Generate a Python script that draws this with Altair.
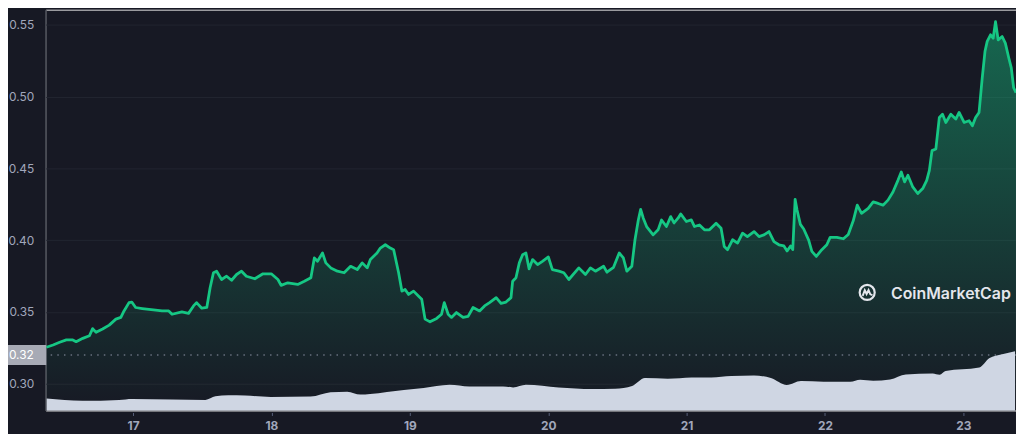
import altair as alt
import pandas as pd

# ---- price series (day of month, USD) ----
days = [16.374, 16.422, 16.470, 16.518, 16.565, 16.589, 16.637, 16.685, 16.708, 16.733,
        16.780, 16.828, 16.876, 16.912, 16.935, 16.971, 16.991, 17.019, 17.067, 17.115,
        17.163, 17.210, 17.258, 17.282, 17.353, 17.401, 17.437, 17.459, 17.497, 17.533,
        17.557, 17.581, 17.604, 17.640, 17.676, 17.712, 17.748, 17.784, 17.819, 17.880,
        17.939, 17.999, 18.047, 18.070, 18.118, 18.190, 18.238, 18.285, 18.310, 18.333,
        18.369, 18.393, 18.429, 18.477, 18.525, 18.572, 18.620, 18.656, 18.692, 18.715,
        18.763, 18.787, 18.823, 18.859, 18.883, 18.919, 18.943, 18.966, 18.991, 19.027,
        19.062, 19.086, 19.110, 19.146, 19.194, 19.229, 19.249, 19.277, 19.301, 19.337,
        19.385, 19.421, 19.457, 19.504, 19.540, 19.576, 19.624, 19.659, 19.695, 19.731,
        19.743, 19.767, 19.791, 19.815, 19.839, 19.862, 19.887, 19.923, 19.958, 20.001,
        20.030, 20.077, 20.113, 20.149, 20.221, 20.269, 20.305, 20.341, 20.400, 20.424,
        20.472, 20.513, 20.543, 20.568, 20.604, 20.627, 20.651, 20.668, 20.687, 20.711,
        20.758, 20.794, 20.819, 20.854, 20.885, 20.909, 20.938, 20.957, 20.998, 21.034,
        21.057, 21.093, 21.129, 21.165, 21.213, 21.249, 21.272, 21.296, 21.332, 21.368,
        21.404, 21.439, 21.487, 21.523, 21.559, 21.595, 21.631, 21.667, 21.703, 21.726,
        21.751, 21.767, 21.784, 21.798, 21.822, 21.846, 21.882, 21.905, 21.937, 21.977,
        22.013, 22.037, 22.085, 22.133, 22.168, 22.204, 22.233, 22.264, 22.312, 22.348,
        22.384, 22.419, 22.455, 22.491, 22.527, 22.551, 22.575, 22.599, 22.634, 22.670,
        22.706, 22.735, 22.754, 22.773, 22.801, 22.826, 22.849, 22.873, 22.909, 22.945,
        22.969, 23.005, 23.041, 23.065, 23.088, 23.113, 23.136, 23.156, 23.172, 23.196,
        23.215, 23.232, 23.251, 23.280, 23.303, 23.328, 23.346, 23.363, 23.380]
prices = [0.3254, 0.3270, 0.3289, 0.3305, 0.3305, 0.3293, 0.3316, 0.3334, 0.3384, 0.3358,
          0.3381, 0.3408, 0.3450, 0.3462, 0.3507, 0.3565, 0.3569, 0.3531, 0.3524, 0.3518,
          0.3512, 0.3507, 0.3507, 0.3484, 0.3500, 0.3490, 0.3542, 0.3565, 0.3526, 0.3531,
          0.3669, 0.3773, 0.3784, 0.3726, 0.3749, 0.3721, 0.3761, 0.3784, 0.3749, 0.3731,
          0.3766, 0.3766, 0.3726, 0.3685, 0.3703, 0.3692, 0.3714, 0.3738, 0.3876, 0.3853,
          0.3911, 0.3842, 0.3807, 0.3784, 0.3773, 0.3818, 0.3795, 0.3842, 0.3807, 0.3865,
          0.3911, 0.3945, 0.3968, 0.3945, 0.3934, 0.3773, 0.3645, 0.3657, 0.3622, 0.3645,
          0.3611, 0.3588, 0.3450, 0.3431, 0.3455, 0.3484, 0.3565, 0.3484, 0.3462, 0.3496,
          0.3462, 0.3469, 0.3531, 0.3507, 0.3542, 0.3565, 0.3600, 0.3560, 0.3569, 0.3600,
          0.3714, 0.3738, 0.3842, 0.3899, 0.3911, 0.3800, 0.3865, 0.3830, 0.3853, 0.3883,
          0.3795, 0.3784, 0.3773, 0.3726, 0.3807, 0.3761, 0.3807, 0.3784, 0.3818, 0.3777,
          0.3811, 0.3911, 0.3876, 0.3784, 0.3818, 0.4003, 0.4141, 0.4215, 0.4153, 0.4095,
          0.4037, 0.4072, 0.4141, 0.4095, 0.4164, 0.4120, 0.4153, 0.4183, 0.4130, 0.4141,
          0.4095, 0.4106, 0.4072, 0.4072, 0.4118, 0.4083, 0.3956, 0.3934, 0.4003, 0.3980,
          0.4049, 0.4025, 0.4060, 0.4025, 0.4037, 0.4060, 0.3990, 0.3968, 0.3960, 0.3925,
          0.3960, 0.3934, 0.4285, 0.4210, 0.4110, 0.4078, 0.4000, 0.3922, 0.3887, 0.3934,
          0.3968, 0.4020, 0.4020, 0.4010, 0.4040, 0.4135, 0.4244, 0.4187, 0.4222, 0.4267,
          0.4256, 0.4244, 0.4279, 0.4336, 0.4417, 0.4475, 0.4406, 0.4452, 0.4371, 0.4325,
          0.4360, 0.4417, 0.4486, 0.4624, 0.4636, 0.4855, 0.4878, 0.4820, 0.4878, 0.4844,
          0.4890, 0.4820, 0.4832, 0.4797, 0.4855, 0.4890, 0.5131, 0.5316, 0.5385, 0.5431,
          0.5407, 0.5523, 0.5396, 0.5419, 0.5373, 0.5269, 0.5200, 0.5062, 0.5027]

# ---- volume series (relative units) ----
vol_days = [16.376, 16.634, 16.900, 16.993, 17.280, 17.523, 17.595, 17.688, 17.810, 17.996,
            18.283, 18.427, 18.548, 18.642, 18.713, 18.957, 19.100, 19.287, 19.430, 19.674,
            19.746, 19.839, 20.075, 20.319, 20.484, 20.606, 20.699, 20.864, 21.036, 21.179,
            21.323, 21.487, 21.609, 21.724, 21.826, 21.989, 22.183, 22.254, 22.348, 22.470,
            22.584, 22.778, 22.828, 22.871, 23.115, 23.186, 23.280, 23.373]
volumes = [12.0, 9.7, 10.7, 11.7, 11.0, 10.7, 14.3, 15.3, 15.0, 13.7,
           14.0, 18.3, 19.0, 16.0, 16.7, 20.7, 22.7, 26.0, 24.3, 24.3,
           23.3, 26.0, 23.3, 21.7, 22.0, 24.7, 32.7, 32.0, 33.3, 33.3,
           34.7, 35.3, 32.7, 25.7, 29.7, 29.0, 29.0, 31.0, 30.0, 31.3,
           36.3, 37.3, 36.0, 39.7, 43.3, 52.7, 56.7, 59.7]

x_ticks = [17, 18, 19, 20, 21, 22, 23]
y_ticks = [0.30, 0.35, 0.40, 0.45, 0.50, 0.55]
current_price = [0.32]
brand = ["CoinMarketCap"]

price_df = pd.DataFrame({"day": days, "price": prices})
vol_df = pd.DataFrame({"day": vol_days, "volume": volumes})
cur_df = pd.DataFrame({"price": current_price})
brand_df = pd.DataFrame({"label": brand})

BG = "#171924"
GREEN = "#16c784"
LABEL = "#a1a7bb"
W, H = 978, 404
X_DOMAIN = [16.369, 23.380]
Y_DOMAIN = [0.28134, 0.5606]

xs = alt.Scale(domain=X_DOMAIN, nice=False, zero=False)
ys = alt.Scale(domain=Y_DOMAIN, nice=False, zero=False)

x_axis = alt.Axis(values=x_ticks, format="d", grid=False, domain=False,
                  ticks=True, tickSize=3, tickColor="#58607a", offset=2,
                  labelPadding=5, labelFontSize=12, labelFontWeight="bold",
                  labelColor=LABEL, labelFont="Inter", title=None)
y_axis = alt.Axis(values=y_ticks, format=".2f", grid=True, gridColor="#222531",
                  gridWidth=1, ticks=False, tickSize=0, domain=True,
                  domainColor="#222531", labelPadding=12, labelFontSize=12,
                  labelColor=LABEL, labelFont="Inter", title=None)

x_enc = alt.X("day:Q", scale=xs, axis=x_axis)
y_enc = alt.Y("price:Q", scale=ys, axis=y_axis)

area = alt.Chart(price_df).mark_area(
    color=alt.Gradient(
        gradient="linear",
        stops=[alt.GradientStop(color="rgba(22,199,132,0.45)", offset=0),
               alt.GradientStop(color="rgba(22,199,132,0.0)", offset=1)],
        x1=1, x2=1, y1=0, y2=1),
).encode(x=x_enc, y=y_enc, y2=alt.datum(Y_DOMAIN[0]))

line = alt.Chart(price_df).mark_line(color=GREEN, strokeWidth=2.8, strokeJoin="round").encode(
    x=x_enc, y=y_enc)

rule = alt.Chart(cur_df).mark_rule(color="#8f95a8", strokeWidth=1.2, strokeDash=[1.5, 5.2]).encode(
    y=y_enc)

box = alt.Chart(cur_df).mark_point(
    shape="M-1,-0.44L1,-0.44L1,0.44L-1,0.44Z", size=2116, filled=True,
    color="#a7aab5", opacity=1, strokeWidth=0).encode(
    x=alt.value(-22.5), y=y_enc)

box_text = alt.Chart(cur_df).mark_text(
    align="right", baseline="middle", fontSize=12, color="#ffffff", font="Inter").encode(
    x=alt.value(-12), y=y_enc, text=alt.Text("price:Q", format=".2f"))

logo_ring = alt.Chart(brand_df).mark_point(
    shape="circle", size=230, filled=False, color="#e4e6ec", strokeWidth=2.2, opacity=1).encode(
    x=alt.value(828), y=alt.value(285))

logo_wave = alt.Chart(brand_df).mark_point(
    shape="M-0.6,0.45L-0.32,-0.3L-0.08,0.2L0.18,-0.3L0.42,0.25L0.7,0.35",
    size=230, filled=False, color="#e4e6ec", strokeWidth=2.0, opacity=1).encode(
    x=alt.value(828), y=alt.value(285))

brand_text = alt.Chart(brand_df).mark_text(
    align="left", baseline="middle", fontSize=16, fontWeight=600, color="#e4e6ec",
    font="Inter").encode(x=alt.value(852), y=alt.value(287), text="label:N")

price_layer = alt.layer(area, line, rule, box, box_text, logo_ring, logo_wave, brand_text)

vol = alt.Chart(vol_df).mark_area(color="#cfd6e3", interpolate="monotone", opacity=1).encode(
    x=x_enc,
    y=alt.Y("volume:Q", scale=alt.Scale(domain=[0, H], nice=False, zero=True), axis=None))

chart = alt.layer(price_layer, vol).resolve_scale(y="independent").properties(
    width=W, height=H, background=BG,
    padding={"left": 38, "top": 0, "right": 0, "bottom": 22},
    autosize=alt.AutoSizeParams(type="none"),
).configure_view(strokeWidth=0, strokeOpacity=0).configure(font="Inter")

chart.save("out.html", embed_options={"renderer": "svg", "actions": False})
